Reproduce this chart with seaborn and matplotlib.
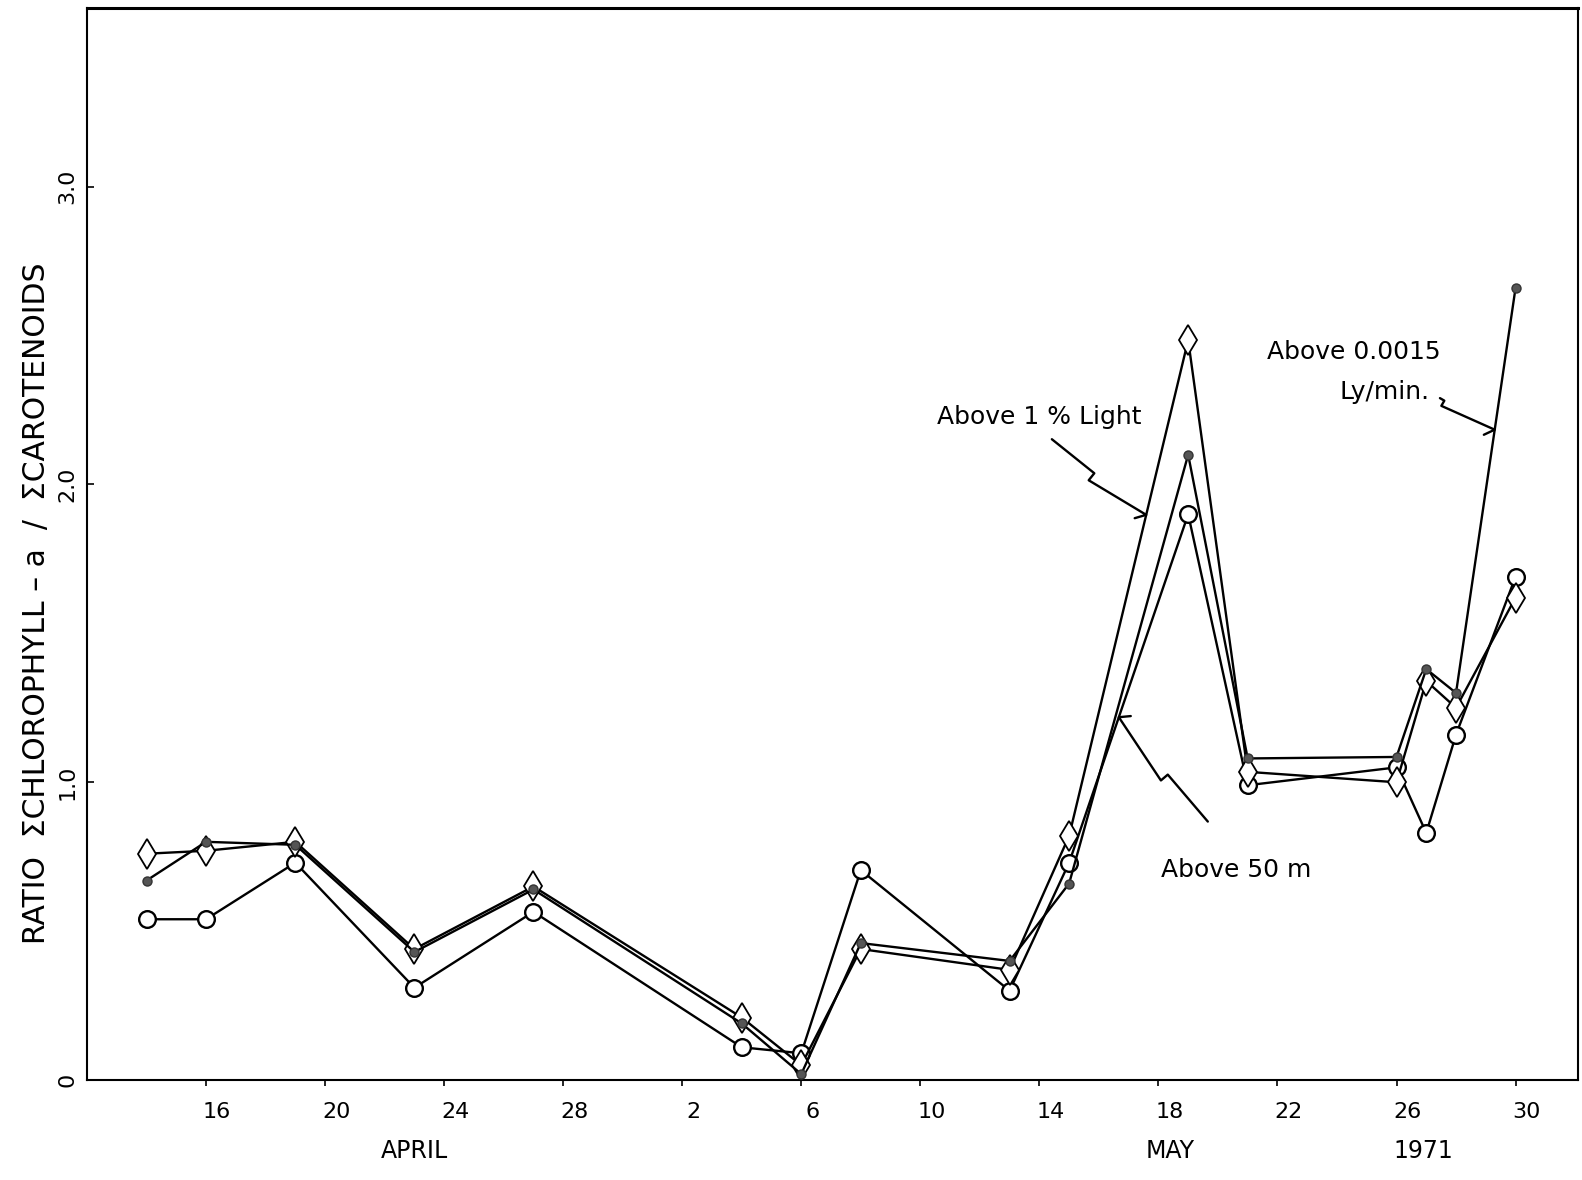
import numpy as np
import pandas as pd
import matplotlib
matplotlib.use("Agg")
import matplotlib.pyplot as plt
import seaborn as sns
from matplotlib.transforms import blended_transform_factory, ScaledTranslation

# ---- data (day numbers counted from 0 April 1971; May n = 30 + n) ----
days = [14, 16, 19, 23, 27, 34, 36, 38, 43, 45, 49, 51, 56, 57, 58, 60]
above_50m = [0.54, 0.54, 0.73, 0.31, 0.565, 0.11, 0.09, 0.705, 0.30, 0.73,
             1.90, 0.99, 1.05, 0.83, 1.16, 1.69]
above_1pct_light = [0.76, 0.77, 0.80, 0.44, 0.65, 0.21, 0.05, 0.44, 0.37, 0.82,
                    2.485, 1.035, 1.00, 1.34, 1.25, 1.62]
above_0015_ly = [0.67, 0.80, 0.79, 0.43, 0.64, 0.19, 0.02, 0.46, 0.40, 0.66,
                 2.10, 1.08, 1.085, 1.38, 1.30, 2.66]

x_ticks = [16, 20, 24, 28, 32, 36, 40, 44, 48, 52, 56, 60]
x_tick_labels = ["16", "20", "24", "28", "2", "6", "10", "14", "18", "22", "26", "30"]
y_ticks = [0, 1, 2, 3]
y_tick_labels = ["0", "1.0", "2.0", "3.0"]

sns.set_style("ticks")
plt.rcParams["font.family"] = ["DejaVu Sans"]
plt.rcParams["text.color"] = "black"
plt.rcParams["axes.labelcolor"] = "black"
plt.rcParams["xtick.color"] = "black"
plt.rcParams["ytick.color"] = "black"
plt.rcParams["axes.edgecolor"] = "black"

fig = plt.figure(figsize=(15.82, 11.80), dpi=100)
ax = fig.add_axes([0.055, 0.0847, 0.9425, 0.9085])
ax.set_xlim(12.0, 62.1)
ax.set_ylim(0, 3.6)

common = dict(ax=ax, color="black", linewidth=1.7, sort=False)
sns.lineplot(x=days, y=above_50m, marker="o", markersize=12,
             markerfacecolor="white", markeredgecolor="black",
             markeredgewidth=1.7, zorder=3, **common)
sns.lineplot(x=days, y=above_1pct_light, marker="d", markersize=15,
             markerfacecolor="white", markeredgecolor="black",
             markeredgewidth=1.3, zorder=4, **common)
sns.lineplot(x=days, y=above_0015_ly, marker="o", markersize=6.5,
             markerfacecolor="#555555", markeredgecolor="#333333",
             markeredgewidth=1.0, zorder=5, **common)

# ---- axes styling ----
ax.set_xticks(x_ticks)
ax.set_xticklabels(x_tick_labels, fontsize=16)
ax.set_yticks(y_ticks)
ax.set_yticklabels(y_tick_labels, fontsize=16, rotation=90, va="center")
ax.tick_params(axis="x", direction="out", length=4, width=1.2, pad=12, colors="black")
ax.tick_params(axis="y", direction="in", length=5, width=1.2, pad=7, colors="black")
shift = ScaledTranslation(11 / 100, 0, fig.dpi_scale_trans)
for lab in ax.get_xticklabels():
    lab.set_transform(lab.get_transform() + shift)
for side, sp in ax.spines.items():
    sp.set_visible(True)
    sp.set_linewidth(1.5)
    sp.set_color("black")
ax.spines["top"].set_linewidth(2.2)

ax.set_xlabel("")
ax.set_ylabel("RATIO  ΣCHLOROPHYLL – a  /  ΣCAROTENOIDS", fontsize=21.5, color="black")
ax.yaxis.set_label_coords(-0.024, 0.445)

# month / year labels below the axis
trans = blended_transform_factory(ax.transData, ax.transAxes)
ax.text(23.0, -0.066, "APRIL", transform=trans, ha="center", va="center", fontsize=17)
ax.text(48.4, -0.066, "MAY", transform=trans, ha="center", va="center", fontsize=17)
ax.text(56.9, -0.066, "1971", transform=trans, ha="center", va="center", fontsize=17)

# ---- annotations with zig-zag leaders ----
def leader(start, end_x, series, seg=0.45, jog=9, barb=12):
    end = (end_x, float(np.interp(end_x, days, series)))
    p0 = ax.transData.transform(start)
    p1 = ax.transData.transform(end)
    v = p1 - p0
    L = np.hypot(*v)
    u = v / L
    n = np.array([-u[1], u[0]])
    a = p0 + v * seg
    b = a + n * jog
    ang = np.deg2rad(55)
    r = np.array([[np.cos(ang), -np.sin(ang)], [np.sin(ang), np.cos(ang)]])
    c = p1 + (r @ (-u)) * barb
    pts = np.array([p0, a, b, p1, c])
    dpts = ax.transData.inverted().transform(pts)
    ax.plot(dpts[:, 0], dpts[:, 1], color="black", linewidth=1.7, zorder=6)

ax.text(43.98, 2.227, "Above 1 % Light", ha="center", va="center", fontsize=18)
leader((44.42, 2.152), 47.59, above_1pct_light, jog=-9)

ax.text(50.6, 0.706, "Above 50 m", ha="center", va="center", fontsize=18)
leader((49.66, 0.868), 46.67, above_50m, jog=9)

ax.text(54.57, 2.445, "Above 0.0015", ha="center", va="center", fontsize=18)
ax.text(55.6, 2.31, "Ly/min.", ha="center", va="center", fontsize=18)
leader((57.46, 2.29), 59.3, above_0015_ly, seg=0.08, jog=-6)

fig.savefig("out.png", dpi=100, facecolor="white")
